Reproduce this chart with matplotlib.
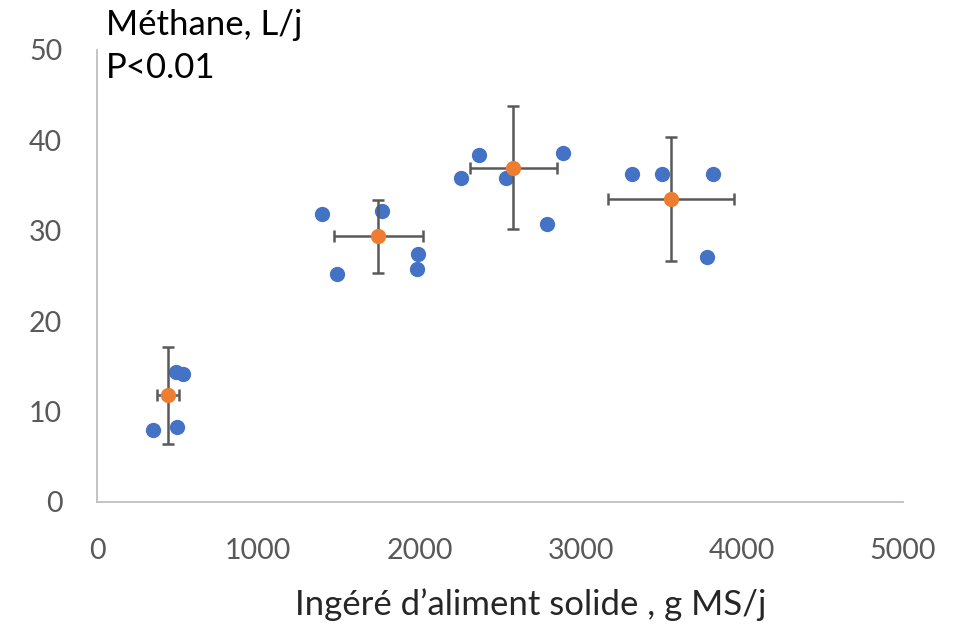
import matplotlib
matplotlib.use("Agg")
import matplotlib.pyplot as plt

# Individual observations (blue)
obs_x = [349, 490, 498, 535,
         1398, 1487, 1766, 1987, 1989,
         2256, 2370, 2537, 2790, 2889,
         3317, 3503, 3786, 3823]
obs_y = [8.0, 14.4, 8.3, 14.2,
         31.9, 25.2, 32.2, 25.8, 27.4,
         35.8, 38.4, 35.8, 30.7, 38.6,
         36.3, 36.3, 27.1, 36.3]

# Group means (orange) with error bars
mean_x = [442, 1745, 2583, 3561]
mean_y = [11.8, 29.4, 37.0, 33.5]
err_x = [68, 275, 269, 390]
err_y = [5.4, 4.05, 6.8, 6.85]

x_ticks = [0, 1000, 2000, 3000, 4000, 5000]
y_ticks = [0, 10, 20, 30, 40, 50]

plt.rcParams['font.family'] = ['Lato', 'DejaVu Sans']

fig = plt.figure(figsize=(9.62, 6.27), dpi=100)
ax = fig.add_axes([97/962, 1 - 502/627, (903-97)/962, (502-50)/627])

ax.scatter(obs_x, obs_y, s=11**2, color='#4472C4', zorder=2, linewidths=0)
ax.errorbar(mean_x, mean_y, xerr=err_x, yerr=err_y, fmt='none',
            ecolor='#595959', elinewidth=1.8, capsize=4.5, capthick=1.8, zorder=3)
ax.scatter(mean_x, mean_y, s=11**2, color='#ED7D31', zorder=4, linewidths=0)

ax.set_xlim(0, 5000)
ax.set_ylim(0, 50)
ax.set_xticks(x_ticks)
ax.set_yticks(y_ticks)
for s in ['top', 'right']:
    ax.spines[s].set_visible(False)
for s in ['left', 'bottom']:
    ax.spines[s].set_color('#BFBFBF')
    ax.spines[s].set_linewidth(1.3)
ax.tick_params(axis='both', length=0, labelsize=20.5, colors='#595959')
ax.tick_params(axis='y', pad=25)
ax.tick_params(axis='x', pad=26)

fig.text(531/962, 1 - 605/627, "Ingéré d’aliment solide , g MS/j", fontsize=25,
         color='#262626', va='center', ha='center')
fig.text(106/962, 1 - 25/627, "Méthane, L/j", fontsize=25, color='#000000', va='center', ha='left')
fig.text(106/962, 1 - 68/627, "P<0.01", fontsize=25, color='#000000', va='center', ha='left')

fig.savefig("out.png", dpi=100)
